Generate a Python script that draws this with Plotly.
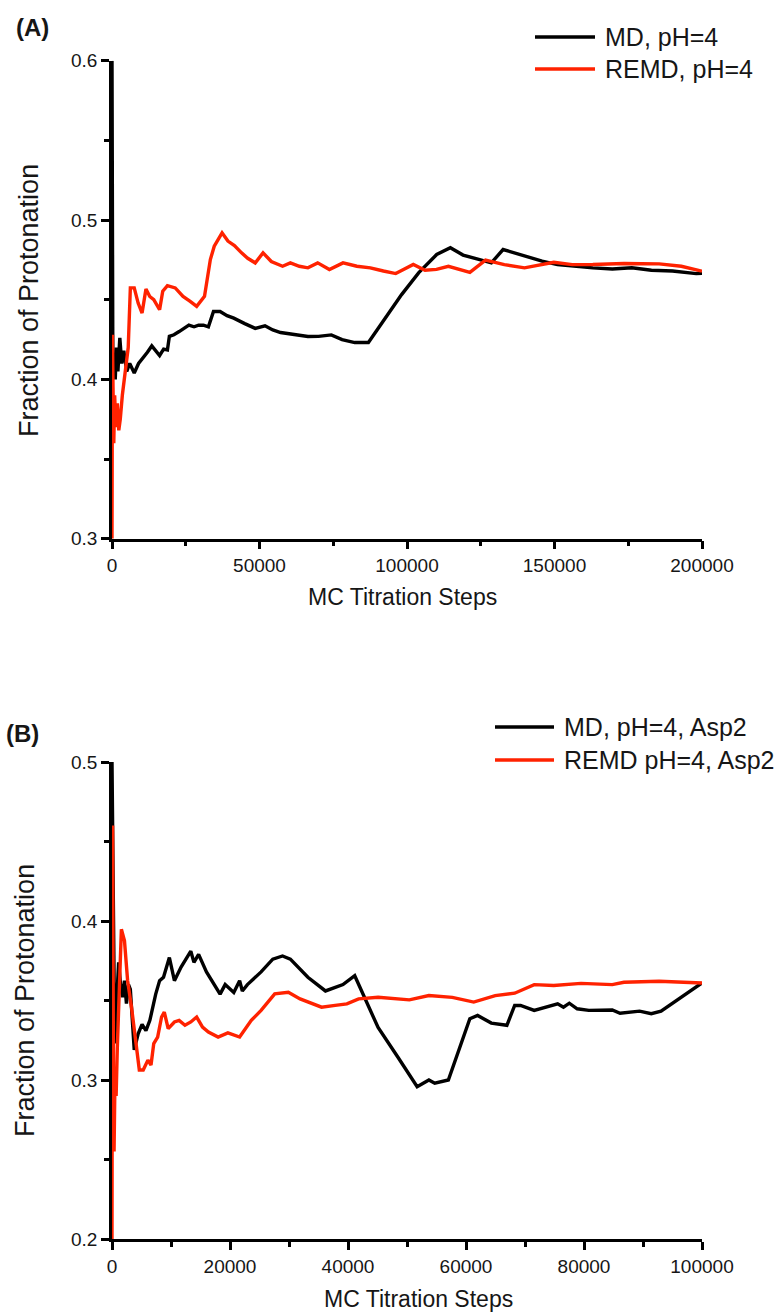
import plotly.graph_objects as go

W, H = 782, 1316
FONT = "Liberation Sans, Arial, sans-serif"
BLACK = "#000000"
RED = "#FF2200"
TEXT = "#161616"

# ---- Panel (A): cumulative fraction of protonation, pH=4 ----
a_md_steps = [0, 300, 700, 1100, 1500, 2000, 2650, 3300, 4000, 5000,
              6000, 7540, 9000, 10850, 12000, 13490, 14800, 16140, 17500, 18790,
              19450, 21000, 22760, 24500, 26060, 27800, 29370, 31000, 32680, 34400,
              36650, 39000, 41280, 45000, 48550, 51860, 54500, 57150, 62000, 66410,
              70000, 74350, 78000, 82290, 86920, 92000, 98170, 104000, 110070, 114700,
              119000, 124630, 128600, 132570, 139000, 145800, 151000, 156380, 163000, 169610,
              176220, 182840, 190000, 198060, 200000]
a_md_frac = [0.6, 0.40, 0.415, 0.40, 0.42, 0.405, 0.426, 0.41, 0.418, 0.405,
             0.41, 0.404, 0.41, 0.414, 0.417, 0.421, 0.418, 0.415, 0.419, 0.4185,
             0.427, 0.428, 0.430, 0.432, 0.434, 0.433, 0.434, 0.434, 0.433, 0.4426,
             0.4426, 0.440, 0.4384, 0.435, 0.432, 0.4336, 0.431, 0.4294, 0.428, 0.4269,
             0.427, 0.4279, 0.425, 0.4231, 0.4231, 0.437, 0.4532, 0.467, 0.4784, 0.4826,
             0.478, 0.4752, 0.4731, 0.4815, 0.478, 0.4742, 0.472, 0.471, 0.470, 0.4693,
             0.470, 0.4685, 0.468, 0.4664, 0.4665]

a_remd_steps = [0, 150, 350, 600, 900, 1300, 1800, 2300, 2800, 3500,
                4500, 5500, 6220, 7540, 8860, 10190, 11510, 12800, 14160, 16140,
                17200, 18790, 21430, 24080, 26500, 28710, 31360, 33340, 34660, 37310,
                39290, 41500, 43920, 46000, 48550, 51200, 54000, 57820, 60460, 63500,
                66410, 69720, 73690, 78320, 83000, 87580, 92000, 96180, 102140, 106110,
                110000, 114040, 121320, 126610, 133000, 139840, 149760, 156000, 162990, 173580,
                185480, 193000, 200000]
a_remd_frac = [0.30, 0.428, 0.395, 0.36, 0.39, 0.37, 0.385, 0.368, 0.375, 0.39,
               0.405, 0.42, 0.4574, 0.4574, 0.4479, 0.4416, 0.4567, 0.452, 0.45, 0.4437,
               0.4553, 0.4588, 0.4574, 0.4521, 0.449, 0.4458, 0.4521, 0.4752, 0.4836, 0.492,
               0.4868, 0.484, 0.4794, 0.476, 0.4731, 0.4794, 0.474, 0.471, 0.4731, 0.471,
               0.470, 0.4731, 0.4689, 0.4731, 0.471, 0.470, 0.468, 0.4664, 0.4721, 0.4685,
               0.469, 0.471, 0.4672, 0.4748, 0.472, 0.470, 0.4735, 0.472, 0.4721, 0.4727,
               0.4725, 0.471, 0.4679]

# ---- Panel (B): Asp2, pH=4 ----
b_md_steps = [0, 200, 463, 800, 1124, 1450, 1786, 2116, 2447, 2800,
              3109, 3770, 4431, 5093, 5754, 6416, 7408, 8069, 8730, 9723,
              10580, 11710, 12700, 13360, 13890, 14680, 16010, 17330, 18320, 19180,
              20640, 21630, 22090, 22950, 25270, 27250, 28900, 30230, 33200, 36180,
              39150, 41140, 42790, 45100, 48410, 51720, 53710, 54700, 57010, 60650,
              61970, 64290, 66930, 68250, 69250, 71560, 75530, 76520, 77510, 78840,
              80820, 84790, 86110, 89420, 91400, 93060, 100000]
b_md_frac = [0.5, 0.40, 0.323, 0.35, 0.374, 0.36, 0.352, 0.3625, 0.348, 0.36,
             0.357, 0.319, 0.329, 0.335, 0.331, 0.3375, 0.354, 0.3625, 0.3646, 0.377,
             0.3625, 0.371, 0.377, 0.381, 0.374, 0.379, 0.368, 0.360, 0.354, 0.360,
             0.355, 0.3625, 0.356, 0.360, 0.368, 0.376, 0.378, 0.376, 0.3646, 0.356,
             0.360, 0.3656, 0.352, 0.333, 0.3146, 0.2958, 0.300, 0.298, 0.300, 0.3385,
             0.3406, 0.3358, 0.3344, 0.3469, 0.3469, 0.3438, 0.3479, 0.3458, 0.3483, 0.3448,
             0.3438, 0.344, 0.342, 0.3433, 0.3417, 0.3433, 0.361]

b_remd_steps = [0, 100, 250, 350, 500, 700, 900, 1100, 1400, 1590,
                2116, 2646, 3307, 3968, 4630, 5291, 6085, 6614, 7077, 7738,
                8400, 8863, 9524, 10580, 11380, 12370, 13360, 14350, 15340, 16340,
                17990, 19640, 21630, 23610, 25270, 27580, 29890, 31880, 35520, 37830,
                39810, 41800, 45110, 50400, 53710, 57680, 61310, 64950, 68250, 71560,
                74870, 79500, 84790, 86770, 92730, 100000]
b_remd_frac = [0.2, 0.46, 0.30, 0.255, 0.30, 0.29, 0.32, 0.34, 0.37, 0.3948,
               0.3875, 0.3625, 0.3458, 0.325, 0.3063, 0.3063, 0.3125, 0.3094, 0.3229, 0.327,
               0.3396, 0.3427, 0.3323, 0.3365, 0.3375, 0.3344, 0.3365, 0.3396, 0.3333, 0.3302,
               0.327, 0.3296, 0.327, 0.3375, 0.3438, 0.3542, 0.3552, 0.351, 0.3458, 0.3469,
               0.3479, 0.351, 0.352, 0.3504, 0.3531, 0.352, 0.349, 0.3531, 0.3546, 0.36,
               0.3594, 0.3608, 0.36, 0.3615, 0.3621, 0.361]

legend_a = ["MD, pH=4", "REMD, pH=4"]
legend_b = ["MD, pH=4, Asp2", "REMD pH=4, Asp2"]


def px_x(p):
    return p / W


def px_y(p):
    return 1 - p / H


fig = go.Figure()
series = [
    (a_md_steps, a_md_frac, BLACK, "x", "y", legend_a[0]),
    (a_remd_steps, a_remd_frac, RED, "x", "y", legend_a[1]),
    (b_md_steps, b_md_frac, BLACK, "x2", "y2", legend_b[0]),
    (b_remd_steps, b_remd_frac, RED, "x2", "y2", legend_b[1]),
]
for xs, ys, col, xa, ya, name in series:
    fig.add_trace(go.Scatter(x=xs, y=ys, mode="lines", name=name, xaxis=xa, yaxis=ya,
                             line=dict(color=col, width=3.4), showlegend=False))


def axis(**kw):
    base = dict(showline=True, linecolor="black", linewidth=2.5, mirror=False,
                ticks="outside", ticklen=8, tickwidth=2.5, tickcolor="black",
                showgrid=False, zeroline=False, fixedrange=True, automargin=False,
                tickfont=dict(family=FONT, size=19, color=TEXT))
    base.update(kw)
    return base


def minor_x(d):
    return dict(dtick=d, ticks="outside", ticklen=5, tickwidth=2.5, tickcolor="black", showgrid=False)


minor_y = dict(dtick=0.05, ticks="outside", ticklen=5, tickwidth=2.5, tickcolor="black", showgrid=False)

xdom = [px_x(112), px_x(702)]
fig.update_layout(
    template="none",
    width=W, height=H, margin=dict(l=0, r=0, t=0, b=0, autoexpand=False),
    paper_bgcolor="white", plot_bgcolor="white",
    xaxis=axis(domain=xdom, anchor="y", range=[0, 200000], tick0=0, dtick=50000,
               tickformat="d", minor=minor_x(25000)),
    yaxis=axis(domain=[px_y(538.7), px_y(60.7)], anchor="x", range=[0.3, 0.6],
               tick0=0.3, dtick=0.1, tickformat=".1f", minor=minor_y),
    xaxis2=axis(domain=xdom, anchor="y2", range=[0, 100000], tick0=0, dtick=20000,
                tickformat="d", minor=minor_x(10000)),
    yaxis2=axis(domain=[px_y(1239), px_y(762)], anchor="x2", range=[0.2, 0.5],
                tick0=0.2, dtick=0.1, tickformat=".1f", minor=minor_y),
)

ann = []


def text(s, x, y, size, xanchor="left", angle=0, bold=False):
    ann.append(dict(text=f"<b>{s}</b>" if bold else s, x=px_x(x), y=px_y(y),
                    xref="paper", yref="paper", xanchor=xanchor, yanchor="middle",
                    textangle=angle, showarrow=False,
                    font=dict(family=FONT, size=size, color=TEXT)))


# panel letters
text("(A)", 14, 27, 24, bold=True)
text("(B)", 4, 733, 24, bold=True)
# axis titles
text("MC Titration Steps", 402, 597, 23, xanchor="center")
text("MC Titration Steps", 418, 1299, 23, xanchor="center")
text("Fraction of Protonation", 29, 301, 27, xanchor="center", angle=-90)
text("Fraction of Protonation", 25, 1001, 27, xanchor="center", angle=-90)

# legends
shapes = []
for (x0, x1, tx, ys, labels) in [(535, 595, 603, (37, 69), legend_a),
                                 (495, 554, 562, (727, 760), legend_b)]:
    for yy, lab, col in zip(ys, labels, [BLACK, RED]):
        shapes.append(dict(type="line", xref="paper", yref="paper",
                           x0=px_x(x0), x1=px_x(x1), y0=px_y(yy), y1=px_y(yy),
                           line=dict(color=col, width=3.5)))
        text(lab, tx, yy, 25)

fig.update_layout(annotations=ann, shapes=shapes)
fig.write_html("out.html")
